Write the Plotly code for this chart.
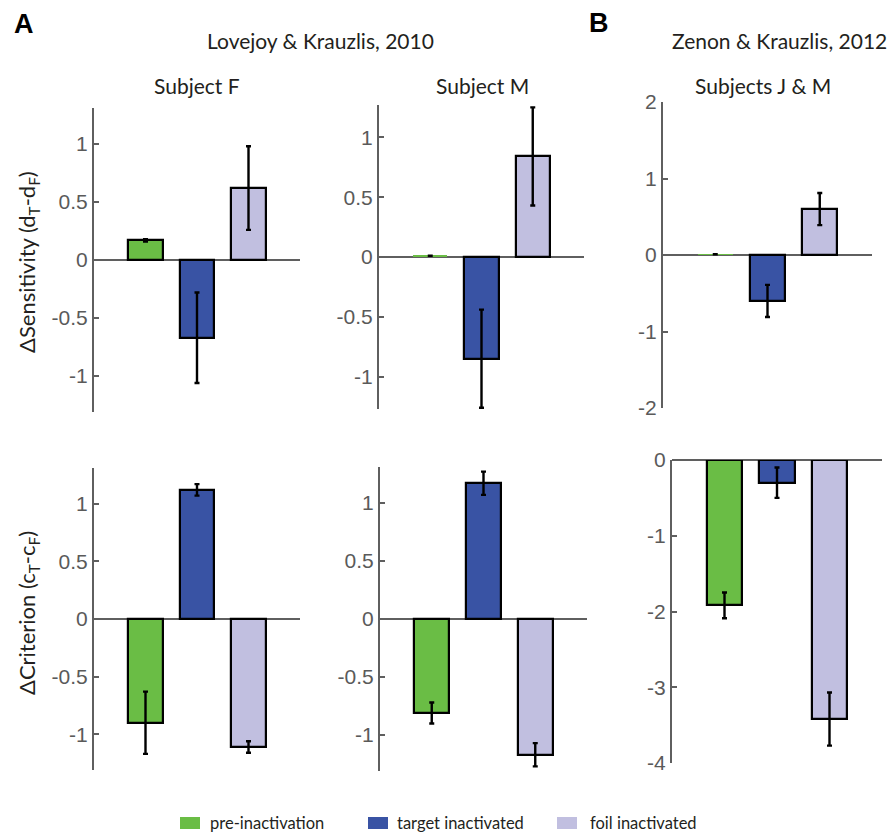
import plotly.graph_objects as go

# ---------------- data ----------------
conditions = ["pre-inactivation", "target inactivated", "foil inactivated"]
colors = ["#6abd45", "#3953a4", "#c1bfe0"]
x_pos = [1, 2, 3]

sens_F = [0.17, -0.67, 0.62]
sens_F_err = [0.01, 0.39, 0.36]
sens_M = [0.01, -0.85, 0.84]
sens_M_err = [0.0, 0.41, 0.41]
sens_JM = [0.01, -0.60, 0.60]
sens_JM_err = [0.0, 0.21, 0.21]

crit_F = [-0.90, 1.12, -1.11]
crit_F_err = [0.27, 0.05, 0.05]
crit_M = [-0.81, 1.17, -1.17]
crit_M_err = [0.09, 0.10, 0.10]
crit_JM = [-1.92, -0.30, -3.42]
crit_JM_err = [0.17, 0.20, 0.35]

ticks_lk = [-1, -0.5, 0, 0.5, 1]
ticks_zk_top = [-2, -1, 0, 1, 2]
ticks_zk_bot = [-4, -3, -2, -1, 0]

W, H = 896, 834

def px_x(a, b):
    return [a / W, b / W]

def px_y(top, bot):
    return [1 - bot / H, 1 - top / H]

panels = [
    (sens_F, sens_F_err, (94, 300), (108, 412), [-1.31, 1.31], ticks_lk),
    (sens_M, sens_M_err, (379, 584), (105, 409), [-1.27, 1.27], ticks_lk),
    (sens_JM, sens_JM_err, (663, 872), (102, 408), [-2, 2], ticks_zk_top),
    (crit_F, crit_F_err, (94, 300), (468, 770), [-1.31, 1.31], ticks_lk),
    (crit_M, crit_M_err, (380, 587), (467, 771), [-1.31, 1.31], ticks_lk),
    (crit_JM, crit_JM_err, (672, 882), (460, 763), [-4, 0], ticks_zk_bot),
]

axis_grey = "#5f5f5f"
tick_font = dict(family="Liberation Sans, Arial", size=21, color="#5a5a5a")
title_font = dict(family="Lato, Open Sans", size=21, color="#231f20")
ylabel_font = dict(family="Lato, Open Sans", size=22, color="#231f20")

fig = go.Figure()
layout = {}
for i, (vals, errs, xd, yd, yr, tks) in enumerate(panels, start=1):
    xa = "x" if i == 1 else f"x{i}"
    ya = "y" if i == 1 else f"y{i}"
    fig.add_trace(go.Bar(
        x=x_pos, y=vals, xaxis=xa, yaxis=ya, width=0.67,
        marker=dict(color=colors,
                    line=dict(color="black",
                              width=[0 if abs(v) < 0.02 else 2.2 for v in vals])),
        error_y=dict(type="data", array=errs, color="black", thickness=2.4, width=2.5),
        showlegend=False, hoverinfo="skip",
    ))
    xkey = "xaxis" if i == 1 else f"xaxis{i}"
    ykey = "yaxis" if i == 1 else f"yaxis{i}"
    layout[xkey] = dict(domain=px_x(*xd), range=[0, 4], anchor=ya, automargin=False,
                        showline=False, showticklabels=False, ticks="",
                        showgrid=False, zeroline=False, fixedrange=True)
    layout[ykey] = dict(domain=px_y(*yd), range=yr, anchor=xa, automargin=False,
                        showline=True, linecolor=axis_grey, linewidth=2,
                        ticks="inside", ticklen=5, tickwidth=2, tickcolor=axis_grey,
                        tickvals=tks, ticktext=[f"{t:g}" for t in tks], tickfont=tick_font,
                        showgrid=False, zeroline=True, zerolinecolor=axis_grey,
                        zerolinewidth=2, fixedrange=True)

annotations = [
    dict(text="<b>A</b>", x=12 / W, y=1 - 24 / H, xanchor="left", yanchor="middle",
         font=dict(family="Liberation Sans, Arial", size=27, color="black")),
    dict(text="<b>B</b>", x=587 / W, y=1 - 23 / H, xanchor="left", yanchor="middle",
         font=dict(family="Liberation Sans, Arial", size=27, color="black")),
    dict(text="Lovejoy & Krauzlis, 2010", x=320 / W, y=1 - 40 / H, font=title_font),
    dict(text="Zenon & Krauzlis, 2012", x=779 / W, y=1 - 40 / H, font=title_font),
    dict(text="Subject F", x=197 / W, y=1 - 85 / H, font=title_font),
    dict(text="Subject M", x=482 / W, y=1 - 85 / H, font=title_font),
    dict(text="Subjects J & M", x=763 / W, y=1 - 85 / H, font=title_font),
    dict(text="ΔSensitivity (d<sub>T</sub>-d<sub>F</sub>)", x=28 / W, y=1 - 262 / H,
         textangle=-90, font=ylabel_font),
    dict(text="ΔCriterion (c<sub>T</sub>-c<sub>F</sub>)", x=28 / W, y=1 - 613 / H,
         textangle=-90, font=ylabel_font),
]
for a in annotations:
    a.update(xref="paper", yref="paper", showarrow=False)
    a.setdefault("xanchor", "center")
    a.setdefault("yanchor", "middle")

legend_x = [180, 368, 557]
legend_text_x = [208, 395, 588]
legend_y = 823
shapes = []
for lx, tx, c, name in zip(legend_x, legend_text_x, colors, conditions):
    shapes.append(dict(type="rect", xref="paper", yref="paper",
                       x0=lx / W, x1=(lx + 20) / W,
                       y0=1 - (legend_y + 6) / H, y1=1 - (legend_y - 6) / H,
                       fillcolor=c, line=dict(width=0)))
    annotations.append(dict(text=name, x=tx / W, y=1 - legend_y / H,
                            xref="paper", yref="paper", showarrow=False,
                            xanchor="left", yanchor="middle",
                            font=dict(family="Lato, Open Sans", size=16.5, color="#231f20")))

fig.update_layout(
    width=W, height=H, margin=dict(l=0, r=0, t=0, b=0, autoexpand=False),
    paper_bgcolor="white", plot_bgcolor="white",
    annotations=annotations, shapes=shapes, bargap=0, **layout,
)

fig.write_html("out.html", post_script="document.body.style.margin='0';",
               config={"displayModeBar": False})
